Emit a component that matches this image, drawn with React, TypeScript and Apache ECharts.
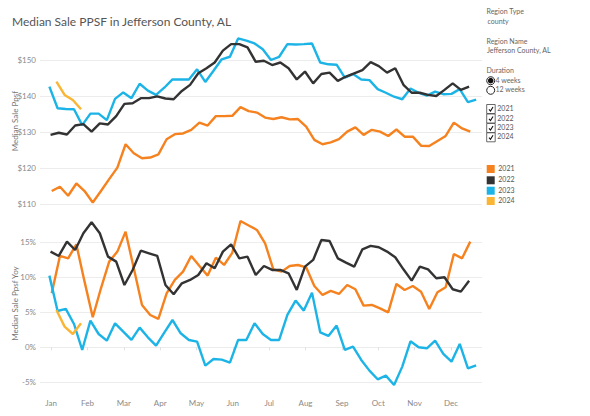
import React, { useEffect, useRef } from "react";
import * as echarts from "echarts";

const titleText = "Median Sale PPSF in Jefferson County, AL";
const monthNames = ["Jan", "Feb", "Mar", "Apr", "May", "Jun", "Jul", "Aug", "Sep", "Oct", "Nov", "Dec"];
const years = ["2021", "2022", "2023", "2024"];
// day of year (0-based) of each year's first week-ending date
const firstWeekDay = [2, 1, 0, 6];
const colors = ["#f5821f", "#333333", "#1cb4e6", "#fbb534"];

const ppsf2021 = [113.6, 114.8, 112.3, 115.7, 113.6, 110.4, 113.6, 116.9, 120.1, 126.6, 124.1, 122.7, 122.9, 123.8, 128.0, 129.4, 129.6, 130.6, 132.6, 131.8, 134.4, 134.4, 134.5, 136.9, 135.8,
  135.4, 134.0, 133.6, 134.1, 133.5, 133.6, 131.5, 127.8, 126.6, 127.1, 128.0, 130.1, 131.3, 129.2, 130.6, 130.1, 128.9, 130.7, 128.7, 128.7, 126.2, 126.1, 127.5, 128.9, 132.6, 131.0, 130.1];
const ppsf2022 = [129.2, 129.8, 129.3, 131.8, 132.2, 130.1, 132.4, 132.1, 134.4, 137.8, 138.0, 139.4, 139.4, 139.9, 139.3, 139.1, 141.4, 143.1, 146.3, 147.7, 149.3, 152.6, 154.4, 154.4, 153.5,
  149.5, 149.8, 148.6, 149.3, 147.7, 144.6, 146.8, 143.5, 146.1, 146.5, 144.2, 145.4, 146.3, 147.2, 149.4, 148.3, 146.5, 147.7, 143.1, 140.9, 140.9, 140.3, 140.0, 141.7, 143.5, 141.7, 142.6];
const ppsf2023 = [142.6, 136.6, 136.4, 136.3, 131.9, 135.1, 135.1, 133.3, 139.2, 141.0, 139.4, 143.4, 141.5, 140.3, 142.3, 144.6, 144.6, 144.6, 147.4, 143.9, 147.0, 150.2, 150.9, 156.0, 155.4,
  154.6, 153.0, 150.0, 150.9, 154.4, 154.3, 154.4, 154.6, 149.3, 148.8, 148.7, 145.1, 146.1, 144.6, 144.4, 141.9, 140.9, 139.8, 139.1, 142.1, 140.9, 140.1, 141.2, 140.5, 140.6, 141.9, 138.3, 139.0];
const ppsf2024 = [144.0, 140.3, 138.9, 136.3];

const yoy2021 = [7.71, 13.05, 12.71, 14.71, 9.38, 4.29, 8.43, 12.24, 13.67, 16.52, 11.29, 6.05, 4.62, 4.05, 7.71, 9.62, 10.81, 13.05, 11.62, 10.24, 12.81, 11.76, 13.5, 18.05, 17.4,
  16.76, 14.86, 11.14, 10.81, 11.62, 11.76, 11.43, 8.76, 7.48, 8.05, 7.62, 8.9, 8.29, 5.95, 6.05, 5.57, 5.0, 9.05, 8.19, 8.76, 7.95, 5.48, 7.86, 8.57, 13.33, 12.71, 15.1];
const yoy2022 = [13.67, 13.05, 15.1, 13.9, 16.29, 17.86, 16.29, 12.95, 12.24, 8.9, 11.05, 13.81, 13.43, 13.05, 8.9, 7.57, 9.14, 9.62, 10.33, 12.0, 11.29, 13.67, 14.71, 12.71, 12.95,
  10.33, 11.62, 11.05, 11.05, 10.57, 8.19, 11.52, 12.48, 15.33, 15.19, 12.71, 12.1, 11.52, 14.0, 14.48, 14.29, 13.67, 12.86, 11.14, 9.52, 11.52, 11.14, 9.86, 10.0, 8.29, 7.95, 9.52];
const yoy2023 = [10.24, 5.19, 5.48, 3.33, -0.38, 3.81, 1.9, 0.95, 3.43, 2.24, 1.05, 2.81, 1.43, 0.24, 2.1, 3.9, 2.0, 1.05, 0.81, -2.62, -1.67, -1.76, -2.2, 1.05, 1.05,
  3.43, 1.9, 1.05, 1.05, 4.62, 6.67, 5.24, 7.81, 2.14, 1.62, 3.1, -0.38, 0.1, -1.81, -3.33, -4.57, -4.05, -5.38, -2.76, 0.86, 0.0, -0.14, 0.95, -0.95, -2.05, 0.48, -3.0, -2.57];
const yoy2024 = [5.33, 2.95, 1.9, 3.43];

const ppsfTicks = [110, 120, 130, 140, 150];
const yoyTicks = [-5, 0, 5, 10, 15];

const ppsfSeries = [ppsf2021, ppsf2022, ppsf2023, ppsf2024];
const yoySeries = [yoy2021, yoy2022, yoy2023, yoy2024];

const FONT = "Lato, 'Open Sans', sans-serif";

function toPoints(values: number[], yearIdx: number) {
  return values.map((v, i) => [firstWeekDay[yearIdx] + 7 * i, v]);
}

export default function App() {
  const ref = useRef<HTMLDivElement>(null);
  useEffect(() => {
    if (!ref.current) return;
    const chart = echarts.init(ref.current, null, { renderer: "svg" });
    const monthPos = monthNames.map((_, k) => 1.5 + 31 * k);
    const axisLabelStyle = { fontSize: 8, color: "#8a8a8a", fontFamily: FONT };

    const series: any[] = [];
    years.forEach((y, yi) => {
      series.push({
        name: y, type: "line", xAxisIndex: 0, yAxisIndex: 0,
        data: toPoints(ppsfSeries[yi], yi), showSymbol: false, symbol: "none",
        lineStyle: { color: colors[yi], width: 2.4 }, itemStyle: { color: colors[yi] },
        z: yi === 1 ? 3 : 2,
      });
      series.push({
        name: y, type: "line", xAxisIndex: 1, yAxisIndex: 1,
        data: toPoints(yoySeries[yi], yi), showSymbol: false, symbol: "none",
        lineStyle: { color: colors[yi], width: 2.4 }, itemStyle: { color: colors[yi] },
        z: yi === 1 ? 3 : 2,
      });
    });

    const lx = 486.5;
    const smallText = (text: string, x: number, y: number, color = "#666") => ({
      type: "text", left: x, top: y - 4.5,
      style: { text, fontSize: 7, fill: color, fontFamily: FONT },
    });
    const graphics: any[] = [
      smallText("Region Type", lx, 12),
      smallText("county", lx + 1, 22),
      smallText("Region Name", lx, 41.5),
      smallText("Jefferson County, AL", lx + 0.5, 51),
      smallText("Duration", lx, 71),
      { type: "circle", shape: { cx: 490.7, cy: 80.7, r: 4 }, style: { fill: "#fff", stroke: "#222", lineWidth: 1 } },
      { type: "circle", shape: { cx: 490.7, cy: 80.7, r: 2.8 }, style: { fill: "#111" } },
      smallText("4 weeks", 495.5, 80.7),
      { type: "circle", shape: { cx: 490.7, cy: 90.3, r: 4 }, style: { fill: "#fff", stroke: "#222", lineWidth: 1 } },
      smallText("12 weeks", 495.5, 90.3),
    ];
    const checkY = [109, 118.5, 128, 137.3];
    years.forEach((y, yi) => {
      const cy = checkY[yi];
      graphics.push({ type: "rect", shape: { x: 486.7, y: cy - 4.5, width: 8.5, height: 9 }, style: { fill: "#fff", stroke: "#444", lineWidth: 0.8 } });
      graphics.push({ type: "polyline", shape: { points: [[489, cy + 0.3], [490.5, cy + 2], [493, cy - 2]] }, style: { stroke: "#111", lineWidth: 1.1, fill: null } });
      graphics.push(smallText(y, 497.3, cy, "#555"));
    });
    const legY = [169, 180.3, 190.7, 201];
    years.forEach((y, yi) => {
      const cy = legY[yi];
      graphics.push({ type: "rect", shape: { x: 486.7, y: cy - 4, width: 8, height: 8 }, style: { fill: colors[yi] } });
      graphics.push(smallText(y, 498.3, cy, "#555"));
    });

    const option: any = {
      animation: false,
      backgroundColor: "#fff",
      title: {
        text: titleText, left: 7, top: 10,
        textStyle: { fontSize: 12, fontWeight: "normal", color: "#555", fontFamily: FONT },
      },
      grid: [
        { left: 40, right: 108, top: 31.2, height: 180, outerBoundsMode: "none", containLabel: false },
        { left: 40, right: 108, top: 214.3, height: 178.5, outerBoundsMode: "none", containLabel: false },
      ],
      xAxis: [
        {
          type: "value", gridIndex: 0, min: -8, max: 369,
          axisLine: { show: false }, axisTick: { show: false }, axisLabel: { show: false }, splitLine: { show: false },
        },
        {
          type: "value", gridIndex: 1, min: -8, max: 369,
          axisLine: { show: false },
          axisTick: { show: true, customValues: monthPos, length: 3, lineStyle: { color: "#e0e0e0" } },
          axisLabel: {
            ...axisLabelStyle, customValues: monthPos, margin: 6, alignMinLabel: "center", alignMaxLabel: "center",
            formatter: (v: number) => monthNames[Math.round((v - 1.5) / 31)] || "",
          },
          splitLine: { show: false },
        },
      ],
      yAxis: [
        {
          type: "value", gridIndex: 0, min: 108, max: 158,
          name: "Median Sale Ppsf", nameLocation: "middle", nameGap: 21, nameMoveOverlap: false,
          nameTextStyle: { fontSize: 8, color: "#777", fontFamily: FONT },
          axisLine: { show: false },
          axisTick: { show: false, customValues: ppsfTicks },
          axisLabel: { ...axisLabelStyle, customValues: ppsfTicks, margin: 4, formatter: (v: number) => "$" + v },
          splitLine: { show: true, lineStyle: { color: "#ececec", width: 1 } },
        },
        {
          type: "value", gridIndex: 1, min: -6.5, max: 19,
          name: "Median Sale Ppsf Yoy", nameLocation: "middle", nameGap: 21, nameMoveOverlap: false,
          nameTextStyle: { fontSize: 8, color: "#777", fontFamily: FONT },
          axisLine: { show: false },
          axisTick: { show: false, customValues: yoyTicks },
          axisLabel: { ...axisLabelStyle, customValues: yoyTicks, margin: 4, formatter: (v: number) => v + "%" },
          splitLine: { show: true, lineStyle: { color: "#ececec", width: 1 } },
        },
      ],
      series,
      graphic: graphics,
    };
    chart.setOption(option);
    return () => chart.dispose();
  }, []);
  return <div ref={ref} style={{ position: "fixed", left: 0, top: 0, width: 590, height: 416, background: "#fff" }} />;
}
